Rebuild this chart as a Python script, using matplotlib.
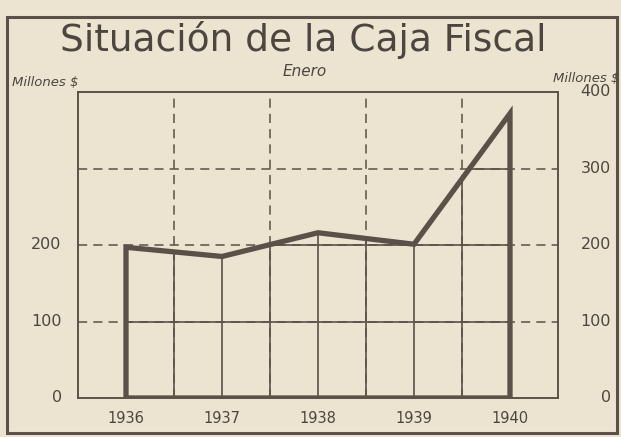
import matplotlib.pyplot as plt
from matplotlib.patches import Polygon, Rectangle

years = [1936, 1937, 1938, 1939, 1940]
caja = [197, 185, 216, 201, 372]
left_ticks = [0, 100, 200]
right_ticks = [0, 100, 200, 300, 400]
grid_y = [100, 200, 300]
mid_x = [1936.5, 1937.5, 1938.5, 1939.5]

paper = '#ece4d0'
ink = '#5b5148'
txt = '#4d4640'

fig = plt.figure(figsize=(6.21, 4.37), dpi=100)
fig.patch.set_facecolor(paper)

# outer box of the newspaper figure
fig.patches.append(Rectangle((7 / 621, 1 - 433 / 437), 610 / 621, 416 / 437,
                             transform=fig.transFigure, fill=False,
                             edgecolor=ink, linewidth=2.2))

ax = fig.add_axes([78 / 621, 1 - 398 / 437, 480 / 621, 306 / 437])
ax.set_facecolor(paper)
ax.set_xlim(1935.5, 1940.5)
ax.set_ylim(0, 400)
for s in ax.spines.values():
    s.set_color(ink)
    s.set_linewidth(1.4)
ax.set_xticks([])
ax.set_yticks([])

# area under the curve (used to clip solid grid lines)
verts = [(years[0], 0)] + list(zip(years, caja)) + [(years[-1], 0)]
area = Polygon(verts, closed=True, fill=False, edgecolor=ink,
               linewidth=3.8, joinstyle='miter', zorder=5)
ax.add_patch(area)

dash = dict(color=ink, linewidth=1.1, dashes=(6, 4))
for y in grid_y:
    ax.axhline(y, **dash)
    ln = ax.axhline(y, color=ink, linewidth=1.2)
    ln.set_clip_path(area)
for x in mid_x:
    ax.axvline(x, **dash)
    ln = ax.axvline(x, color=ink, linewidth=1.2)
    ln.set_clip_path(area)
for x in years[1:-1]:
    ln = ax.axvline(x, color=ink, linewidth=1.2)
    ln.set_clip_path(area)

# tick labels
for v in left_ticks:
    ax.text(1935.33, v, str(v), ha='right', va='center', fontsize=11.5, color=txt)
for v in right_ticks:
    ax.text(1941.05, v, str(v), ha='right', va='center', fontsize=11.5, color=txt)
for yr in years:
    ax.text(yr, -27, str(yr), ha='center', va='center', fontsize=10.5, color=txt)

fig.text(303 / 621, 1 - 40 / 437, 'Situación de la Caja Fiscal', ha='center',
         va='center', fontsize=27, color=txt)
fig.text(305 / 621, 1 - 72 / 437, 'Enero', ha='center', va='center',
         fontsize=11, style='italic', color=txt)
fig.text(12 / 621, 1 - 82 / 437, 'Millones $', ha='left', va='center',
         fontsize=9.5, style='italic', color=txt)
fig.text(619 / 621, 1 - 78 / 437, 'Millones $', ha='right', va='center',
         fontsize=9.5, style='italic', color=txt)

fig.savefig('out.png', dpi=100, facecolor=paper)
